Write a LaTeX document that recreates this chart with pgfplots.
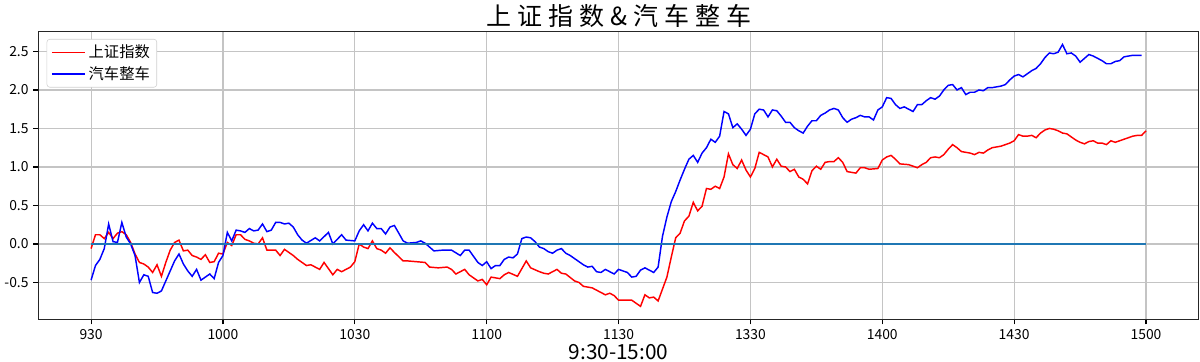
\documentclass[border=0pt]{standalone}
\usepackage{fontspec}
\setmainfont{Noto Sans CJK SC}
\newfontfamily\titlefont[LetterSpace=24]{Noto Sans CJK SC}
\usepackage{pgfplots}
\pgfplotsset{compat=1.18}
\definecolor{mplblue}{HTML}{1F77B4}
\definecolor{gridgray}{HTML}{C4C4C4}
\definecolor{legedge}{HTML}{D0D0D0}

\pgfplotstableread{
x y
0 -0.06
1 0.12
2 0.12
3 0.07
4 0.15
5 0.07
6 0.14
7 0.16
8 0.12
9 0.02
10 -0.13
11 -0.24
12 -0.26
13 -0.30
14 -0.37
15 -0.27
16 -0.42
17 -0.24
18 -0.08
19 0.02
20 0.05
21 -0.09
22 -0.08
23 -0.15
24 -0.17
25 -0.20
26 -0.14
27 -0.24
28 -0.23
29 -0.12
30 -0.13
31 0.02
32 -0.02
33 0.12
34 0.12
35 0.06
36 0.04
37 0.01
38 0.00
39 0.08
40 -0.08
42 -0.08
43 -0.15
44 -0.07
46 -0.15
47 -0.20
49 -0.28
50 -0.27
52 -0.33
53 -0.24
55 -0.40
56 -0.33
57 -0.36
59 -0.30
60 -0.23
61 0.00
62 -0.04
63 -0.06
64 0.04
65 -0.06
66 -0.08
67 -0.12
68 -0.05
69 -0.11
71 -0.22
72 -0.22
74 -0.23
76 -0.24
77 -0.30
79 -0.31
81 -0.30
82 -0.33
83 -0.39
85 -0.33
86 -0.40
88 -0.48
89 -0.46
90 -0.53
91 -0.43
93 -0.45
94 -0.40
95 -0.37
97 -0.42
99 -0.22
100 -0.31
102 -0.36
103 -0.38
104 -0.39
106 -0.33
107 -0.38
108 -0.39
110 -0.48
111 -0.50
112 -0.55
114 -0.57
115 -0.60
117 -0.66
118 -0.64
119 -0.67
120 -0.73
121 -0.73
122 -0.73
123 -0.73
124 -0.77
125 -0.81
126 -0.66
127 -0.70
128 -0.69
129 -0.74
131 -0.43
132 -0.17
133 0.08
134 0.14
135 0.30
136 0.36
137 0.54
138 0.43
139 0.49
140 0.72
141 0.71
142 0.75
143 0.72
144 0.87
145 1.17
146 1.03
147 0.98
148 1.09
149 0.96
150 0.87
151 0.98
152 1.19
153 1.16
154 1.13
155 1.00
156 1.10
157 1.01
158 1.00
159 0.94
160 0.97
161 0.87
162 0.84
163 0.78
164 0.95
165 1.01
166 0.97
167 1.06
168 1.07
169 1.07
170 1.12
171 1.06
172 0.94
174 0.92
175 0.99
176 0.99
177 0.97
179 0.98
180 1.09
181 1.13
182 1.15
183 1.10
184 1.04
186 1.03
187 1.01
188 0.99
189 1.03
190 1.06
191 1.12
192 1.13
193 1.12
194 1.16
195 1.23
196 1.29
197 1.25
198 1.20
199 1.19
200 1.18
201 1.16
202 1.19
203 1.18
204 1.22
205 1.25
206 1.26
207 1.27
208 1.29
209 1.31
210 1.34
211 1.42
212 1.40
213 1.40
214 1.41
215 1.38
216 1.44
217 1.48
218 1.50
219 1.49
220 1.47
221 1.44
222 1.43
223 1.39
224 1.35
225 1.32
226 1.30
227 1.33
228 1.34
229 1.31
230 1.31
231 1.29
232 1.34
233 1.32
234 1.34
235 1.36
236 1.38
237 1.40
238 1.41
239 1.41
240 1.47
}\szindex

\pgfplotstableread{
x y
0 -0.47
1 -0.28
2 -0.20
3 -0.06
4 0.26
5 0.03
6 0.02
7 0.28
8 0.09
9 0.00
10 -0.15
11 -0.50
12 -0.40
13 -0.42
14 -0.63
15 -0.64
16 -0.61
17 -0.48
18 -0.35
19 -0.22
20 -0.13
21 -0.26
22 -0.35
23 -0.42
24 -0.33
25 -0.47
26 -0.43
27 -0.39
28 -0.45
29 -0.24
30 -0.15
31 0.15
32 0.04
33 0.18
34 0.17
35 0.15
36 0.20
37 0.17
38 0.18
39 0.26
40 0.16
41 0.18
42 0.28
43 0.28
44 0.26
45 0.27
46 0.22
47 0.12
48 0.05
49 0.01
51 0.08
52 0.04
54 0.15
55 0.00
57 0.12
58 0.05
60 0.04
61 0.17
62 0.25
63 0.17
64 0.27
65 0.20
66 0.20
67 0.13
68 0.22
69 0.24
70 0.14
71 0.04
72 0.01
74 0.02
75 0.04
76 0.01
78 -0.09
80 -0.08
82 -0.08
84 -0.15
85 -0.08
86 -0.08
88 -0.24
89 -0.28
90 -0.23
91 -0.32
92 -0.28
93 -0.28
94 -0.20
95 -0.17
96 -0.18
97 -0.13
98 0.07
99 0.09
100 0.08
101 0.03
102 -0.04
103 -0.06
104 -0.10
105 -0.12
106 -0.08
107 -0.06
108 -0.12
109 -0.15
110 -0.19
111 -0.23
112 -0.27
113 -0.30
114 -0.29
115 -0.36
116 -0.37
117 -0.33
118 -0.36
119 -0.39
120 -0.33
121 -0.35
122 -0.37
123 -0.43
124 -0.42
125 -0.34
126 -0.31
127 -0.34
128 -0.37
129 -0.30
130 0.10
131 0.35
132 0.55
133 0.68
134 0.83
135 0.97
136 1.10
137 1.15
138 1.06
139 1.18
140 1.25
141 1.36
142 1.32
143 1.40
144 1.72
145 1.69
146 1.51
147 1.56
148 1.49
149 1.41
150 1.49
151 1.69
152 1.75
153 1.74
154 1.65
155 1.74
156 1.73
157 1.66
158 1.58
159 1.58
160 1.51
161 1.47
162 1.44
163 1.53
164 1.60
165 1.60
166 1.67
167 1.70
168 1.74
169 1.76
170 1.74
171 1.64
172 1.58
173 1.62
174 1.64
175 1.67
176 1.65
177 1.65
178 1.61
179 1.74
180 1.78
181 1.90
182 1.89
183 1.81
184 1.76
185 1.78
186 1.75
187 1.72
188 1.81
189 1.81
190 1.86
191 1.90
192 1.88
193 1.92
194 2.00
195 2.06
196 2.07
197 2.00
198 2.03
199 1.94
200 1.97
201 1.97
202 2.00
203 1.99
204 2.03
205 2.03
206 2.04
207 2.05
208 2.07
209 2.13
210 2.18
211 2.20
212 2.17
213 2.21
214 2.25
215 2.28
216 2.34
217 2.42
218 2.48
219 2.47
220 2.49
221 2.59
222 2.47
223 2.48
224 2.44
225 2.36
226 2.41
227 2.46
228 2.44
229 2.41
230 2.38
231 2.34
232 2.34
233 2.37
234 2.38
235 2.43
236 2.44
237 2.45
238 2.45
239 2.45
}\qiche

\begin{document}
\begin{tikzpicture}
\useasboundingbox (0,0) rectangle (864pt,260pt);
\begin{axis}[
  at={(27.6pt,30pt)}, anchor=south west,
  scale only axis, width=835.5pt, height=207.1pt,
  xmin=-12, xmax=252, ymin=-0.98, ymax=2.755,
  xtick={0,30,60,90,120,150,180,210,240},
  xticklabels={930,1000,1030,1100,1130,1330,1400,1430,1500},
  ytick={-0.5,0,0.5,1,1.5,2,2.5},
  yticklabels={-0.5,0.0,0.5,1.0,1.5,2.0,2.5},
  tick label style={font=\fontsize{10}{12}\selectfont, black},
  tick align=outside, xtick pos=lower, ytick pos=left,
  major tick length=3.5pt,
  tick style={black, line width=0.8pt},
  axis line style={line width=0.8pt, black!85},
  grid=major,
  major grid style={gridgray, line width=0.8pt},
  title={上证指数\&汽车整车},
  title style={font=\titlefont\fontsize{18}{20}\selectfont, at={(axis description cs:0.5,1)}, anchor=base, yshift=-1.5pt},
  xlabel={9:30-15:00},
  xlabel style={font=\fontsize{15}{17}\selectfont, at={(axis description cs:0.5,0)}, anchor=base, yshift=-28.8pt},
  legend style={at={(axis description cs:0.0072,0.975)}, anchor=north west,
    draw=legedge, rounded corners=2pt, font=\fontsize{11}{13}\selectfont,
    inner xsep=3pt, inner ysep=2pt, row sep=1pt, cells={anchor=west}},
  legend image code/.code={\draw[#1] (0pt,0pt) -- (24pt,0pt);},
]
\addplot[red, line width=1.05pt] table[x=x, y=y] {\szindex};
\addlegendentry{上证指数}
\addplot[blue, line width=1.05pt] table[x=x, y=y] {\qiche};
\addlegendentry{汽车整车}
\addplot[mplblue, line width=1.1pt, forget plot] coordinates {(0,0) (240,0)};
\end{axis}
\end{tikzpicture}
\end{document}
